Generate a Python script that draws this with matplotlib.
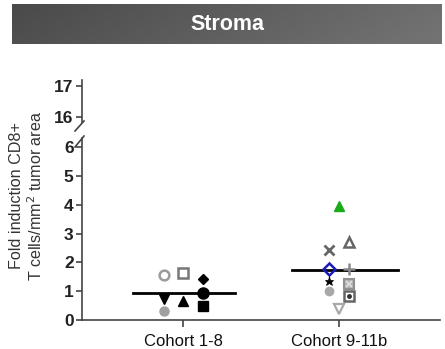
import numpy as np
import matplotlib
matplotlib.use("Agg")
import matplotlib.pyplot as plt
from matplotlib.colors import LinearSegmentedColormap
from matplotlib.lines import Line2D

plt.rcParams['font.family'] = ['Liberation Sans', 'DejaVu Sans']

# data
groups = ['Cohort 1-8', 'Cohort 9-11b']
c1_values = [1.56, 0.73, 0.31, 1.63, 0.66, 1.42, 0.94, 0.49]
c1_slot = [-1, -1, -1, 0, 0, 1, 1, 1]
c2_values = [2.43, 1.77, 1.35, 1.00, 3.96, 0.38, 2.70, 1.77, 1.24, 0.84]
c2_slot = [-1, -1, -1, -1, 0, 0, 1, 1, 1, 1]
medians = [0.95, 1.75]
low_ticks = [0, 1, 2, 3, 4, 5, 6]
high_ticks = [16, 17]

# marker styles: (marker, face, edge, size, edge width)
c1_style = [('o', 'none', '#9a9a9a', 7, 1.8),
            ('v', 'black', 'black', 7, 1),
            ('o', '#a0a0a0', '#a0a0a0', 6.5, 1),
            ('s', 'none', '#777777', 7.5, 1.8),
            ('^', 'black', 'black', 7, 1),
            ('D', 'black', 'black', 5.5, 1),
            ('o', 'black', 'black', 8, 1),
            ('s', 'black', 'black', 7.5, 1)]
c2_style = [('x', 'none', '#666666', 7, 2),
            ('D', 'none', '#1a1ab8', 6, 1.8),
            ('*', 'black', 'black', 6.5, 0.5),
            ('o', '#a8a8a8', '#a8a8a8', 6, 1),
            ('^', '#1aaa1a', '#1aaa1a', 7, 1),
            ('v', 'none', '#a8a8a8', 7.5, 1.6),
            ('^', 'none', '#666666', 7, 1.8),
            ('+', 'none', '#888888', 8, 1.8),
            ('s', '#b4b4b4', '#909090', 7.5, 1.5),
            ('s', 'none', '#666666', 7.5, 1.8)]

W, H = 445, 349
fig = plt.figure(figsize=(W / 100, H / 100), dpi=100)

# title banner with gradient
bax = fig.add_axes([12 / W, 1 - 44 / H, 430 / W, 40 / H])
grad = np.linspace(0, 1, 256)[None, :] * np.ones((20, 1))
grad = grad + np.linspace(0, 0.15, 20)[:, None]
cmap = LinearSegmentedColormap.from_list('g', ['#4a4a4a', '#727272'])
bax.imshow(grad, aspect='auto', cmap=cmap, vmin=0, vmax=1.1, extent=[0, 1, 0, 1])
bax.set_xlim(0, 1)
bax.set_ylim(0, 1)
bax.axis('off')
bax.text(0.5, 0.5, 'Stroma', color='white', fontsize=15.5, fontweight='bold',
         ha='center', va='center')

left = 82 / W
width = 358 / W
ax = fig.add_axes([left, 1 - 320 / H, width, 182 / H])
axh = fig.add_axes([left, 1 - 122 / H, width, 42 / H])

spine_c = '#444444'
for a in (ax, axh):
    for s in ('top', 'right'):
        a.spines[s].set_visible(False)
    a.spines['left'].set_color(spine_c)
    a.spines['left'].set_linewidth(1.2)
    a.tick_params(axis='y', colors=spine_c, width=1.2, length=4, pad=2,
                  labelsize=12.5, labelcolor='#222222')
    a.set_xlim(0.35, 2.65)
axh.spines['bottom'].set_visible(False)
axh.set_xticks([])
ax.spines['bottom'].set_color(spine_c)
ax.spines['bottom'].set_linewidth(1.2)

ax.set_ylim(0, 6.32)
ax.set_yticks(low_ticks)
ax.set_yticklabels([str(t) for t in low_ticks], fontweight='bold')
axh.set_ylim(15.85, 17.2)
axh.set_yticks(high_ticks)
axh.set_yticklabels([str(t) for t in high_ticks], fontweight='bold')

ax.set_xticks([1, 2])
ax.set_xticklabels(groups, fontsize=12, color='#111111')
ax.tick_params(axis='x', colors=spine_c, width=1.2, length=5, labelcolor='#111111', pad=5)

dx1 = 0.125
dx2 = 0.064
for v, s, st in zip(c1_values, c1_slot, c1_style):
    m, fc, ec, ms, mw = st
    ax.plot(1 + s * dx1, v, marker=m, mfc=fc, mec=ec, ms=ms, mew=mw,
            ls='none', clip_on=False, zorder=3)
for i, (v, s, st) in enumerate(zip(c2_values, c2_slot, c2_style)):
    m, fc, ec, ms, mw = st
    ax.plot(2 + s * dx2, v, marker=m, mfc=fc, mec=ec, ms=ms, mew=mw,
            ls='none', clip_on=False, zorder=3)
    if i == 8:
        ax.plot(2 + s * dx2, v, marker='x', mec='#e0e0e0', ms=4, mew=1.2, ls='none', zorder=4)
    if i == 9:
        ax.plot(2 + s * dx2, v, marker='o', mfc='#333333', mec='#333333', ms=2.5, ls='none', zorder=4)

ax.plot([1 - 0.32, 1 + 0.33], [medians[0], medians[0]], color='black', lw=2, zorder=2)
ax.plot([2 - 0.30, 2 + 0.38], [medians[1], medians[1]], color='black', lw=2, zorder=2)

# axis break slashes
for (x0, y0, x1, y1) in [(75, 131, 84, 121), (75, 147, 84, 136)]:
    fig.add_artist(Line2D([x0 / W, x1 / W], [1 - y0 / H, 1 - y1 / H],
                          color=spine_c, lw=1.2))

fig.text(27 / W, 1 - 196 / H, 'Fold induction CD8+\nT cells/mm$^2$ tumor area',
         rotation=90, ha='center', va='center', fontsize=11.6,
         color='#333333', multialignment='center', linespacing=1.1)

fig.savefig('out.png', dpi=100)
